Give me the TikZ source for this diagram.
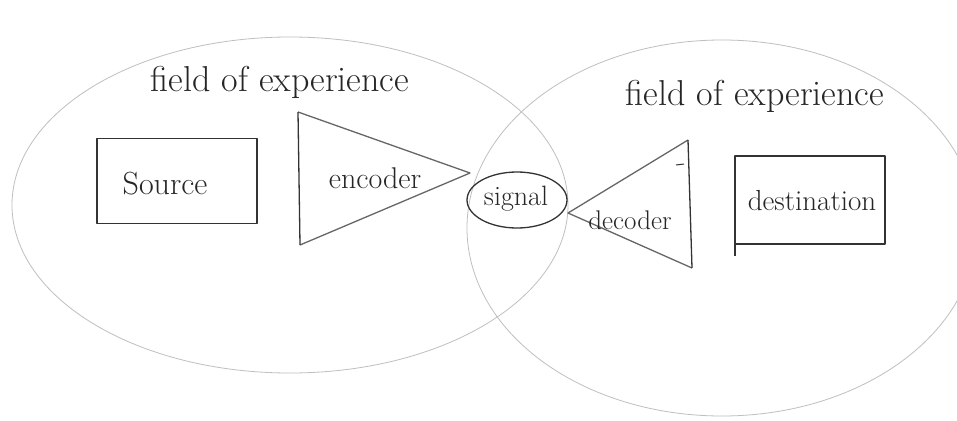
\documentclass[tikz,border=0pt]{standalone}
\usepackage{fontspec}
\setmainfont{Latin Modern Roman}
\usetikzlibrary{shapes.geometric}
\begin{document}
\begin{tikzpicture}[x=1pt,y=-1pt,
  pen/.style={draw=black!80, line width=1.3pt, line join=round},
  faint/.style={draw=black!25, line width=0.8pt},
  lbl/.style={font=\fontsize{32}{34}\selectfont, text=black!85, inner sep=0pt},
  title/.style={font=\fontsize{36}{38}\selectfont, text=black!85, inner sep=0pt}]
\useasboundingbox (0,0) rectangle (957,420);
\fill[white] (0,0) rectangle (957,420);
% fields of experience
\draw[faint] (290,205) ellipse [x radius=278, y radius=168];
\draw[faint] (722,228) ellipse [x radius=255, y radius=188];
\node[title] (fl) at (280,82) {field of experience};
\node[title] (fr) at (755,96) {field of experience};
% source
\node[pen, draw, rectangle, minimum width=160pt, minimum height=85pt] (src) at (177,181) {};
\node[lbl] (srct) at (165,184) {Source};
% encoder
\coordinate (e1) at (298,112);
\coordinate (e2) at (300,245);
\coordinate (ea) at (470,173);
\draw[pen, draw=black!60] (e1) -- (ea) -- (e2);
\draw[pen] (e1) -- (e2);
\node[lbl, font=\fontsize{30}{32}\selectfont] (enct) at (375,178) {encoder};
% signal
\node[pen, draw, ellipse, minimum width=100pt, minimum height=56pt, inner sep=0pt] (sig) at (517,200) {};
\node[lbl, font=\fontsize{28}{30}\selectfont] (sigt) at (516,199) {signal};
% decoder
\coordinate (d1) at (688,140);
\coordinate (d2) at (692,268);
\coordinate (da) at (568,213);
\draw[pen, draw=black!60] (d1) -- (da) -- (d2);
\draw[pen] (d1) -- (d2);
\draw[pen, line width=1pt] (676,165) -- (684,164);
\node[lbl, font=\fontsize{27}{29}\selectfont] (dect) at (630,220) {decoder};
% destination
\node[pen, draw, rectangle, minimum width=150pt, minimum height=88pt] (dst) at (810,200) {};
\draw[pen] (735,162) -- (735,256);
\node[lbl, font=\fontsize{29}{31}\selectfont] (dstt) at (812,201) {destination};
\end{tikzpicture}
\end{document}
